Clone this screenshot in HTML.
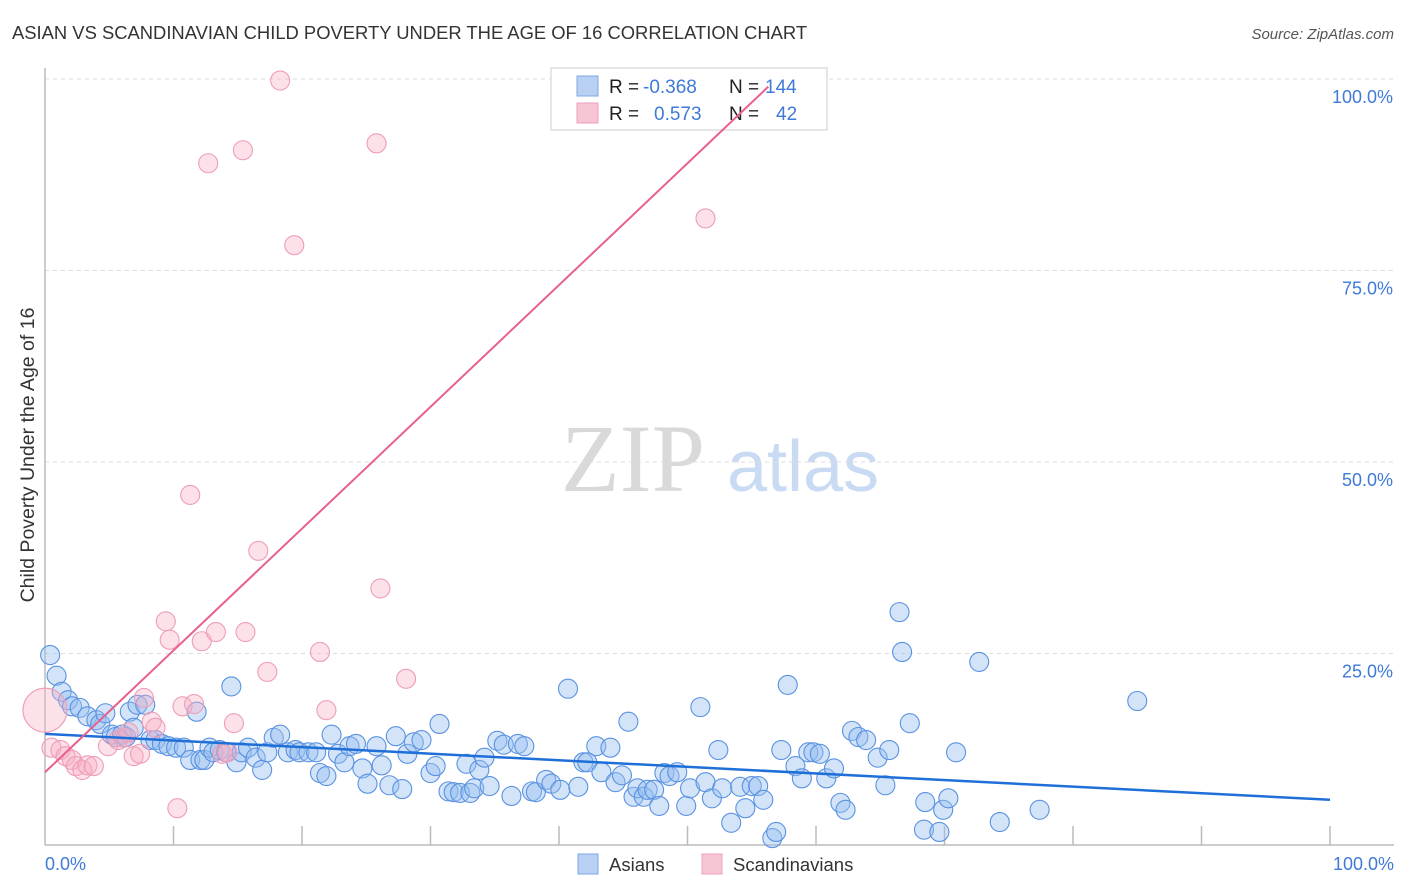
<!DOCTYPE html>
<html><head><meta charset="utf-8">
<style>
body{margin:0;background:#fff;width:1406px;height:892px;overflow:hidden;font-family:"Liberation Sans",sans-serif;}
svg{position:absolute;left:0;top:0}
</style></head>
<body>
<svg id="chart" width="1406" height="892">
<text x="12" y="39" font-size="18.4" fill="#333">ASIAN VS SCANDINAVIAN CHILD POVERTY UNDER THE AGE OF 16 CORRELATION CHART</text>
<text x="1394" y="39" font-size="15" fill="#555" font-style="italic" text-anchor="end">Source: ZipAtlas.com</text>
<g>
<text x="633" y="491" font-size="96" fill="#d9d9d9" font-family="Liberation Serif,serif" text-anchor="middle">ZIP</text>
<text x="803" y="491" font-size="72" fill="#c9daf3" text-anchor="middle">atlas</text>
</g>
<g id="grid"></g>
<g id="axes"></g>
<g>
<rect x="551" y="68" width="276" height="62" fill="#fff" stroke="#ddd" stroke-width="1.5"/>
<rect x="577" y="76" width="21" height="20" fill="#b8d1f3" stroke="#7ea7e6"/>
<rect x="577" y="103" width="21" height="20" fill="#f8c5d4" stroke="#eda0b8"/>
<text font-size="19" fill="#222"><tspan x="609" y="93">R = </tspan><tspan x="643" fill="#3f7ad8">-0.368</tspan><tspan x="729">N = </tspan><tspan x="765" fill="#3f7ad8">144</tspan></text>
<text font-size="19" fill="#222"><tspan x="609" y="120">R = </tspan><tspan x="654" fill="#3f7ad8">0.573</tspan><tspan x="729">N = </tspan><tspan x="776" fill="#3f7ad8">42</tspan></text>
</g>
<g id="marks"></g>
<text transform="translate(34,455) rotate(-90)" font-size="19.5" fill="#333" text-anchor="middle">Child Poverty Under the Age of 16</text>
<text x="45" y="870" font-size="18" fill="#3f7ad8">0.0%</text>
<text x="1394" y="870" font-size="18" fill="#3f7ad8" text-anchor="end">100.0%</text>
<g>
<rect x="578" y="854" width="20" height="20" fill="#b8d1f3" stroke="#7ea7e6"/>
<text x="609" y="871" font-size="18.5" fill="#333">Asians</text>
<rect x="702" y="854" width="20" height="20" fill="#f8c5d4" stroke="#eda0b8"/>
<text x="733" y="871" font-size="18.5" fill="#333">Scandinavians</text>
</g>
</svg>
<script>
const yTicks=[25,50,75,100];
const yTickLabels=["25.0%","50.0%","75.0%","100.0%"];
const xTicks=[10,20,30,40,50,60,70,80,90,100];
const asianX=[0.4,0.9,1.3,1.8,2.1,2.7,3.3,4.0,4.3,4.7,5.2,5.5,6.0,6.3,6.6,6.9,7.2,7.8,8.2,8.6,9.1,9.6,10.2,10.8,11.3,11.8,12.1,12.4,12.8,13.1,13.6,14.1,14.5,14.9,15.3,15.8,16.4,16.9,17.3,17.8,18.3,18.9,19.5,19.8,20.5,21.1,21.4,21.9,22.3,22.8,23.3,23.7,24.2,24.7,25.1,25.8,26.2,26.8,27.3,27.8,28.2,28.7,29.3,30.0,30.4,30.7,31.4,31.8,32.3,32.8,33.1,33.4,33.8,34.2,34.6,35.2,35.7,36.3,36.8,37.3,37.9,38.2,39.0,39.4,40.1,40.7,41.5,41.9,42.2,42.9,43.3,44.0,44.4,44.9,45.4,45.8,46.1,46.6,46.9,47.4,47.8,48.2,48.6,49.2,49.9,50.2,51.0,51.4,51.9,52.4,52.7,53.4,54.1,54.5,55.0,55.5,55.9,56.6,56.9,57.3,57.8,58.4,58.9,59.4,59.8,60.3,60.8,61.4,61.9,62.3,62.8,63.3,63.9,64.8,65.4,65.7,66.5,66.7,67.3,68.4,68.5,69.6,69.9,70.3,70.9,72.7,74.3,77.4,85.0];
const asianY=[24.8,22.1,20.0,18.9,18.1,17.9,16.8,16.3,15.8,17.2,14.4,14.1,14.4,14.1,17.4,15.3,18.3,18.3,13.7,13.7,13.2,12.9,12.7,12.7,11.1,17.4,11.1,11.1,12.7,12.1,12.4,12.1,20.7,10.8,12.1,12.7,11.4,9.8,12.1,14.0,14.4,12.1,12.4,12.1,12.1,12.1,9.4,9.0,14.4,11.9,10.8,12.9,13.2,10.0,8.0,12.9,10.4,7.8,14.2,7.3,11.9,13.4,13.7,9.4,10.3,15.8,7.0,6.9,6.8,10.6,6.8,7.4,9.8,11.4,7.7,13.6,13.1,6.4,13.2,12.9,7.0,6.9,8.5,8.0,7.2,20.4,7.6,10.8,10.8,12.9,9.5,12.7,8.2,9.1,16.1,6.3,7.4,6.3,7.2,7.2,5.1,9.4,9.0,9.5,5.1,7.4,18.0,8.2,6.1,12.4,7.4,2.9,7.6,4.8,7.7,7.7,5.9,0.9,1.7,12.4,20.9,10.3,8.7,12.1,12.1,11.9,8.7,10.0,5.5,4.6,14.9,14.1,13.7,11.4,7.8,12.4,30.4,25.2,15.9,2.0,5.6,1.7,4.6,6.1,12.1,23.9,3.0,4.6,18.8];
const scandX=[0.0,0.5,1.2,1.6,2.1,2.4,2.9,3.3,3.8,4.9,5.7,6.1,6.5,6.9,7.4,7.7,8.3,8.6,9.4,9.7,10.3,10.7,11.3,11.6,12.2,12.7,13.3,13.8,14.2,14.7,15.4,15.6,16.6,17.3,18.3,19.4,21.4,21.9,25.8,26.1,28.1,51.4];
const scandY=[17.6,12.7,12.4,11.6,11.1,10.3,9.8,10.4,10.3,12.9,13.7,14.0,14.7,11.6,11.9,19.2,16.1,15.3,29.2,26.8,4.8,18.1,45.7,18.4,26.6,89.0,27.8,11.9,12.1,15.9,90.7,27.8,38.4,22.6,99.8,78.3,25.2,17.6,91.6,33.5,21.7,81.8];
const scandBig=[1,0,0,0,0,0,0,0,0,0,0,0,0,0,0,0,0,0,0,0,0,0,0,0,0,0,0,0,0,0,0,0,0,0,0,0,0,0,0,0,0,0];
const asianTrend=[14.5,5.9];
const scandTrend=[9.5,1.59];
const NS='http://www.w3.org/2000/svg';
const X0=45,X1=1330,Y0=845,Y100=79;
function sx(v){return X0+(X1-X0)*v/100;}
function sy(v){return Y0-(Y0-Y100)*v/100;}
function mk(tag,attrs,parent){const e=document.createElementNS(NS,tag);for(const k in attrs)e.setAttribute(k,attrs[k]);parent.appendChild(e);return e;}
const grid=document.getElementById('grid'),axes=document.getElementById('axes'),marks=document.getElementById('marks');
yTicks.forEach((t,i)=>{
  const l=mk('line',{x1:X0,x2:1394,y1:sy(t),y2:sy(t),stroke:'#ddd','stroke-dasharray':'4,4'},grid);
  
  
  const tx=mk('text',{x:1393,y:sy(t)+24,'font-size':18,fill:'#3f7ad8','text-anchor':'end'},grid);
  tx.textContent=yTickLabels[i];
  
  
});
const ya=mk('line',{x1:X0,x2:X0,y1:68,y2:Y0,stroke:'#bbb','stroke-width':1.5},axes);


const xa=mk('line',{x1:X0,x2:1394,y1:Y0,y2:Y0,stroke:'#bbb','stroke-width':1.5},axes);


xTicks.forEach(t=>{
  const l=mk('line',{x1:sx(t),x2:sx(t),y1:Y0-19,y2:Y0,stroke:'#bbb','stroke-width':1.5},axes);
  
  
});
asianX.forEach((x,i)=>{
  const c=mk('circle',{cx:sx(x),cy:sy(asianY[i]),r:9.5,fill:'rgba(150,190,238,0.42)',stroke:'#5a92e2','stroke-width':1.1},marks);
  
  
});
scandX.forEach((x,i)=>{
  const c=mk('circle',{cx:sx(x),cy:sy(scandY[i]),r:scandBig[i]?22:9.5,fill:'rgba(246,175,198,0.38)',stroke:'#ee9db7','stroke-width':1.1},marks);
  
  
});
const bl=mk('line',{x1:sx(0),y1:sy(asianTrend[0]),x2:sx(100),y2:sy(asianTrend[1]),stroke:'#1f6fd8','stroke-width':2.5},marks);


const xEnd=(99-scandTrend[0])/scandTrend[1];
const pl=mk('line',{x1:sx(0),y1:sy(scandTrend[0]),x2:sx(xEnd),y2:sy(99),stroke:'#e8608f','stroke-width':2},marks);


</script>
</body></html>
